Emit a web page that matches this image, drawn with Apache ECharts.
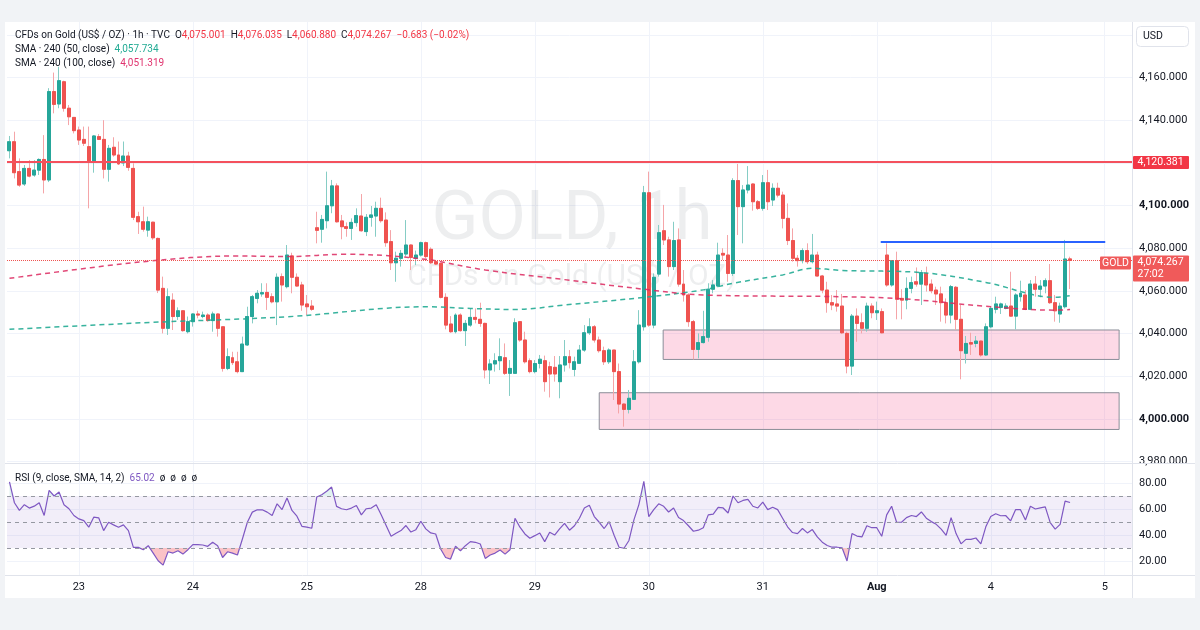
<!DOCTYPE html>
<html>
<head>
<meta charset="utf-8">
<title>GOLD, 1h</title>
<script src="https://cdn.jsdelivr.net/npm/echarts@6.0.0/dist/echarts.min.js"></script>
<style>
html,body{margin:0;padding:0;background:#ffffff;}
#chart{width:1200px;height:630px;}
</style>
</head>
<body>
<div id="chart"></div>
<script>
// ---------------- DATA ----------------
const dayLabels   = ['23','24','25','28','29','30','31','Aug','4','5'];
const dayStartIdx = [14,37,60,83,106,129,152,175,198,221];
const priceLabelTicks = [3980,4000,4020,4040,4060,4080,4100,4120,4140,4160];
const priceGridTicks  = [3980,4000,4020,4040,4060,4080,4100,4120,4140,4160,4180];
const rsiTicks = [20,40,60,80];
const rsiLevels = [70,50,30];

const openP = [
4125.7,4129.9,4115.9,4110.1,4117.4,4114.3,4116.6,4121.6,4112.0,4153.4,4147.6,4158.0,4145.6,4141.3,4135.4,4131.0,4127.6,4120.6,4132.3,4131.0,4117.0,4127.3,4123.7,4120.0,4123.2,4117.4,4094.8,4092.4,
4088.5,4092.2,4084.6,4061.2,4042.5,4055.7,4048.0,4050.7,4040.9,4045.6,4049.2,4048.0,4048.7,4046.1,4049.2,4043.2,4023.7,4028.7,4026.8,4022.2,4034.7,4048.0,4056.5,4058.6,4059.3,4057.3,4054.9,4066.7,
4062.0,4076.4,4066.4,4062.8,4053.9,4052.9,4089.6,4088.9,4092.9,4099.9,4109.2,4092.8,4090.1,4089.3,4092.0,4095.1,4087.8,4094.5,4095.1,4098.7,4093.2,4083.1,4073.2,4075.3,4077.3,4081.5,4075.3,4076.8,
4082.6,4079.5,4073.7,4072.9,4057.0,4044.5,4040.9,4048.7,4041.4,4044.0,4047.6,4046.7,4044.8,4023.0,4025.8,4027.3,4028.7,4021.4,4021.4,4045.6,4037.0,4027.3,4022.2,4026.0,4027.3,4024.5,4024.2,4017.5,4025.3,
4029.2,4023.2,4026.1,4032.3,4040.4,4043.2,4037.0,4032.0,4026.8,4032.3,4022.2,4007.0,4004.5,4009.2,4026.8,4043.2,4106.0,4044.0,4067.9,4088.2,4083.9,4071.4,4083.9,4063.2,4058.1,4045.6,4032.6,4035.8,
4038.3,4060.8,4062.3,4077.6,4076.8,4068.2,4111.7,4099.5,4107.3,4110.1,4101.8,4098.7,4110.7,4102.6,4108.1,4104.9,4094.0,4083.6,4075.3,4074.2,4078.9,4073.7,4076.8,4067.0,4060.4,4054.5,4053.9,4052.9,
4040.1,4024.8,4048.2,4045.1,4042.5,4052.9,4049.8,4050.3,4076.8,4062.8,4074.2,4056.5,4055.7,4061.2,4064.3,4063.2,4068.2,4063.2,4060.4,4058.6,4054.5,4048.7,4061.7,4046.7,4030.8,4035.8,4035.4,4036.5,
4030.0,4043.2,4051.4,4052.3,4051.8,4052.9,4048.2,4057.3,4058.1,4051.4,4063.2,4060.8,4062.3,4064.8,4054.5,4049.2,4052.6,4075.001
];
const closeP = [
4129.9,4115.4,4109.6,4117.4,4113.8,4116.6,4121.6,4112.0,4153.4,4147.4,4158.5,4145.6,4141.6,4135.1,4130.7,4129.2,4120.6,4132.6,4131.0,4117.0,4126.8,4123.7,4119.5,4123.2,4117.9,4094.5,4092.4,4088.9,
4092.4,4084.9,4060.4,4042.5,4057.3,4048.0,4050.7,4041.4,4045.6,4049.2,4048.7,4048.7,4046.1,4049.2,4042.5,4023.7,4029.2,4026.4,4022.2,4035.1,4048.0,4057.3,4058.9,4059.2,4057.0,4054.9,4066.4,4062.8,
4076.8,4066.4,4062.3,4053.4,4052.6,4051.4,4088.4,4093.5,4099.9,4109.2,4092.4,4090.1,4089.3,4092.1,4095.3,4088.2,4094.5,4095.6,4098.7,4092.9,4082.6,4073.2,4075.3,4077.6,4081.5,4075.7,4076.8,4082.6,
4076.1,4073.2,4072.6,4057.0,4044.0,4040.9,4048.7,4041.4,4044.8,4047.6,4046.7,4044.8,4023.0,4025.8,4027.3,4029.2,4021.4,4023.7,4045.1,4037.0,4026.8,4022.2,4026.0,4028.0,4017.5,4021.1,4021.1,4025.3,4029.2,
4026.4,4026.8,4032.3,4040.4,4043.2,4037.0,4032.0,4026.8,4032.3,4022.2,4007.0,4004.5,4009.7,4026.8,4044.0,4106.0,4044.0,4066.4,4087.3,4083.9,4071.4,4083.6,4063.2,4058.1,4045.6,4032.6,4035.8,4038.6,
4060.8,4062.8,4076.8,4076.8,4068.2,4111.7,4099.5,4107.3,4109.6,4101.8,4098.7,4110.7,4101.8,4108.1,4104.9,4094.0,4083.6,4075.3,4074.2,4078.9,4073.7,4076.8,4067.0,4060.4,4054.5,4053.4,4052.9,4040.4,
4024.8,4048.2,4044.8,4042.5,4052.9,4049.8,4050.7,4040.4,4062.8,4074.2,4056.1,4055.7,4061.2,4063.9,4063.2,4068.6,4062.8,4060.1,4058.6,4054.5,4048.7,4062.0,4046.7,4032.0,4035.4,4035.1,4036.5,4030.0,
4043.2,4051.8,4053.9,4053.9,4052.9,4048.2,4058.1,4058.9,4051.4,4063.2,4060.8,4062.3,4064.8,4054.5,4050.7,4052.9,4074.95,4074.267
];
const highP = [
4132.6,4134.6,4122.1,4119.0,4121.3,4121.3,4122.1,4133.0,4155.0,4162.3,4165.0,4158.5,4147.1,4141.5,4137.0,4137.0,4137.0,4133.0,4133.5,4140.0,4128.4,4132.0,4130.0,4130.0,4125.2,4119.8,4097.1,4099.5,
4094.8,4092.4,4085.0,4066.7,4061.2,4058.9,4052.3,4051.0,4048.0,4049.5,4050.7,4050.3,4049.5,4050.3,4049.5,4043.3,4033.1,4031.5,4031.5,4038.6,4052.6,4058.1,4060.4,4063.6,4063.6,4058.9,4068.2,4068.2,
4081.5,4077.9,4068.2,4064.3,4058.1,4055.7,4097.1,4095.6,4115.9,4112.0,4110.4,4095.6,4092.1,4094.0,4098.7,4105.4,4096.0,4099.8,4101.8,4103.7,4096.8,4088.5,4078.4,4079.2,4093.2,4081.8,4078.9,4083.1,
4083.1,4080.4,4074.5,4072.9,4058.9,4048.2,4049.5,4049.5,4046.4,4051.8,4051.8,4054.5,4045.1,4028.0,4030.8,4037.8,4035.4,4027.6,4047.2,4045.6,4040.9,4028.4,4027.6,4030.0,4029.7,4026.8,4029.5,4029.5,4037.0,
4032.3,4029.2,4034.7,4044.0,4047.2,4044.0,4038.6,4033.9,4033.1,4032.3,4026.0,4007.3,4013.6,4032.3,4051.0,4109.2,4115.9,4068.2,4090.9,4100.3,4085.4,4092.4,4089.3,4069.8,4058.9,4046.4,4040.1,4050.7,
4063.6,4065.1,4082.6,4080.0,4086.2,4112.8,4119.5,4109.6,4118.5,4110.4,4102.6,4114.3,4116.7,4110.4,4110.7,4106.5,4101.0,4089.3,4076.8,4080.0,4082.3,4086.7,4078.4,4067.5,4064.3,4058.1,4060.4,4058.6,
4040.9,4049.2,4051.8,4049.5,4054.5,4054.2,4055.0,4051.8,4082.3,4074.5,4078.4,4060.8,4066.4,4066.7,4071.0,4069.8,4071.4,4065.4,4062.0,4062.0,4056.5,4062.8,4062.3,4053.4,4038.9,4040.4,4038.9,4036.7,
4044.8,4052.6,4057.3,4054.5,4054.2,4069.0,4058.9,4064.8,4060.4,4065.1,4067.0,4065.1,4065.9,4072.6,4058.1,4054.5,4083.9,4076.035
];
const lowP = [
4122.1,4112.7,4108.8,4109.2,4113.2,4113.5,4114.3,4105.7,4111.0,4143.2,4145.6,4144.0,4137.7,4133.8,4128.4,4127.9,4098.7,4115.4,4130.7,4112.7,4111.2,4122.9,4119.0,4118.5,4116.3,4093.2,4086.7,4087.8,
4085.4,4084.0,4059.0,4040.1,4039.4,4041.7,4046.4,4040.9,4040.1,4043.3,4047.2,4047.2,4045.6,4040.9,4038.6,4022.2,4022.9,4025.3,4021.4,4022.0,4034.2,4044.8,4054.2,4057.3,4051.1,4054.2,4044.0,4055.0,
4061.2,4058.9,4062.0,4050.7,4048.7,4050.7,4082.3,4082.6,4089.3,4096.4,4092.0,4084.2,4085.4,4083.9,4090.1,4087.8,4085.7,4090.1,4085.4,4092.0,4080.7,4069.8,4064.3,4071.4,4076.1,4069.8,4072.1,4076.1,
4075.3,4072.6,4072.1,4056.5,4042.0,4040.4,4040.1,4040.9,4034.2,4043.2,4044.8,4043.2,4019.0,4016.4,4022.2,4022.9,4020.6,4010.8,4021.4,4036.2,4026.0,4021.4,4021.4,4023.7,4012.8,4010.1,4017.5,4009.7,4022.2,
4023.7,4020.0,4025.8,4031.5,4039.4,4035.8,4031.1,4025.3,4025.8,4008.9,4002.6,3996.4,4002.6,4008.9,4026.0,4041.4,4043.2,4042.5,4066.7,4081.5,4066.7,4069.8,4062.0,4055.0,4043.2,4027.9,4028.4,4035.4,
4036.2,4058.9,4061.7,4074.5,4064.3,4067.0,4086.2,4082.3,4105.7,4097.6,4097.9,4097.6,4097.9,4099.8,4103.8,4089.3,4081.5,4073.7,4071.4,4072.9,4072.6,4072.9,4066.7,4058.9,4049.8,4051.0,4050.3,4039.8,
4021.4,4020.6,4036.2,4040.1,4040.9,4047.2,4046.4,4040.1,4062.0,4062.0,4046.7,4046.7,4051.4,4058.9,4062.0,4053.4,4059.7,4058.9,4053.4,4045.6,4044.8,4044.8,4041.7,4018.6,4026.0,4030.0,4033.6,4029.2,
4029.5,4042.5,4049.5,4049.2,4051.4,4047.9,4042.0,4055.0,4051.0,4051.0,4057.3,4057.0,4058.9,4053.9,4045.6,4045.1,4051.8,4060.880
];

const rsi = [
80.8,64.8,58.9,63.3,60.7,62.2,64.8,55.0,74.4,70.0,
73.1,63.3,60.2,55.0,52.4,51.1,46.0,53.7,53.2,43.4,
49.8,47.8,46.0,47.8,43.4,30.5,30.5,28.7,31.8,26.1,
20.2,16.8,27.1,26.1,27.9,25.3,28.7,32.6,32.6,32.3,
31.3,34.4,31.8,22.7,27.1,26.1,24.6,36.9,49.8,57.6,
59.4,59.4,57.6,55.0,64.0,59.6,68.4,58.9,54.5,46.7,
46.0,45.2,69.2,71.0,73.6,76.9,62.0,60.2,59.4,60.7,
62.7,55.5,60.2,60.7,63.3,55.5,47.3,39.0,41.3,43.4,
47.3,42.3,44.1,50.6,44.7,41.6,40.8,29.2,22.7,21.5,
31.3,27.9,31.8,34.9,34.4,33.1,22.0,24.6,26.1,28.4,
25.3,28.7,52.9,46.0,40.8,37.5,39.5,41.6,34.9,42.1,
40.0,44.7,
49.0,43.7,47.1,52.9,60.8,62.9,54.2,49.8,45.0,50.3,
39.8,30.6,29.8,35.8,51.6,63.4,81.3,54.2,59.5,64.0,
62.1,57.7,60.8,53.4,51.1,47.1,42.9,43.7,45.6,55.5,
56.1,61.3,60.8,56.9,70.0,64.8,66.6,67.4,62.1,60.8,
65.3,59.5,61.3,59.5,52.9,46.3,41.9,41.1,45.0,41.6,
44.2,38.5,34.5,31.9,30.6,30.6,30.2,20.0,41.1,39.2,
38.5,47.1,45.6,45.6,39.0,55.5,62.1,49.8,49.8,53.4,
55.0,54.2,57.7,52.9,50.3,48.2,44.5,39.8,53.4,41.1,
33.2,36.6,36.6,37.7,33.2,46.3,54.2,56.3,54.8,55.0,
50.8,59.5,59.5,51.6,62.1,60.0,60.8,61.6,49.5,44.5,
48.2,66.1,65.02
];

// SMA 240 (50) and SMA 240 (100): [candle index, value]
const sma50 = [[0,4042.0],[27,4045.1],[56,4047.9],[84,4052.6],[93,4051.8],[102,4051.3],[112,4053.4],[128,4057.0],[140,4060.5],[146,4063.6],[156,4067.5],[162,4070.6],[168,4069.6],[184,4068.6],[197,4064.0],[211,4057.0],[214,4057.734]];
const sma100 = [[0,4065.9],[27,4073.7],[46,4076.4],[56,4076.1],[68,4077.2],[77,4076.4],[84,4074.8],[87,4073.7],[96,4069.8],[112,4065.3],[128,4060.8],[140,4058.1],[168,4057.3],[181,4056.2],[197,4052.8],[211,4051.0],[214,4051.319]];

const resistanceLevel = 4120.381;
const blueLine = [175.8, 221.1, 4083.0];                    // from index, to index, level
const zones = [[119.0, 223.9, 3995.1, 4012.3], [131.9, 223.9, 4027.9, 4041.7]]; // x0, x1, low, high
const countdownText = '27:02';

// ---------------- BUILD ----------------
const FONT = 'Roboto, "Noto Sans", "DejaVu Sans", sans-serif';
const UP = '#26a69a', DOWN = '#ef5350', UPW = '#86cdc5', DOWNW = '#f5a5a8';
const TXT = '#131722';
const nCat = 227;
const last = closeP.length - 1;
const categories = Array.from({length: nCat}, (_, i) => {
  const k = dayStartIdx.indexOf(i);
  return k >= 0 ? dayLabels[k] : '';
});
const candleAll = openP.map((o, i) => [o, closeP[i], lowP[i], highP[i]]);
const candleBody = openP.map((o, i) => [o, closeP[i], Math.min(o, closeP[i]), Math.max(o, closeP[i])]);
const fmt3 = v => v.toLocaleString('en-US', {minimumFractionDigits: 3, maximumFractionDigits: 3});
const sgn = v => (v < 0 ? '\u2212' : '+') + Math.abs(v);

const chart = echarts.init(document.getElementById('chart'), null, {renderer: 'canvas'});

const splitX = gi => ({
  type: 'value', gridIndex: gi, min: -0.5, max: nCat - 0.5,
  axisLine: {show: false}, axisLabel: {show: false},
  axisTick: {show: false, customValues: dayStartIdx},
  splitLine: {show: true, lineStyle: {color: '#f0f3fa', width: 1}}
});

const option = {
  animation: false,
  backgroundColor: '#ffffff',
  textStyle: {fontFamily: FONT},
  grid: [
    {left: 7, right: 68, top: 22, height: 441.5},
    {left: 7, right: 68, top: 463.5, height: 112}
  ],
  xAxis: [
    {type: 'category', gridIndex: 0, data: categories, boundaryGap: true,
     axisLine: {show: false}, axisTick: {show: false}, axisLabel: {show: false}, splitLine: {show: false}},
    {type: 'category', gridIndex: 1, data: categories, boundaryGap: true,
     axisLine: {show: false}, axisTick: {show: false}, splitLine: {show: false},
     axisLabel: {show: true, interval: (i, v) => v !== '', margin: 6, fontSize: 11, color: TXT, fontFamily: FONT,
       formatter: v => v === 'Aug' ? '{b|Aug}' : v,
       rich: {b: {fontWeight: 'bold', fontSize: 11, color: TXT, fontFamily: FONT}}}},
    splitX(0),
    splitX(1)
  ],
  yAxis: [
    {type: 'value', gridIndex: 0, position: 'right', min: 3979.15, max: 4186.0,
     axisLine: {show: false},
     axisTick: {show: false, customValues: priceGridTicks},
     axisLabel: {customValues: priceLabelTicks, margin: 7, fontSize: 11, color: TXT, fontFamily: FONT,
       formatter: v => (v % 100 === 0) ? '{b|' + fmt3(v) + '}' : fmt3(v),
       rich: {b: {fontWeight: 'bold', fontSize: 11, color: TXT, fontFamily: FONT}}},
     splitLine: {show: true, lineStyle: {color: '#f0f3fa', width: 1}}},
    {type: 'value', gridIndex: 1, position: 'right', min: 8.85, max: 95,
     axisLine: {show: false},
     axisTick: {show: false, customValues: rsiTicks},
     axisLabel: {customValues: rsiTicks, margin: 7, fontSize: 11, color: TXT, fontFamily: FONT,
       formatter: v => v.toFixed(2)},
     splitLine: {show: true, lineStyle: {color: '#f0f3fa', width: 1}}}
  ],
  visualMap: [{
    type: 'piecewise', show: false, seriesIndex: 5, dimension: 1,
    pieces: [
      {lt: 30, color: 'rgba(242,54,69,0.30)'},
      {gte: 30, lte: 70, color: 'rgba(255,255,255,0)'},
      {gt: 70, color: 'rgba(8,153,129,0.12)'}
    ]
  }],
  series: [
    { // annotations (zones, levels)
      name: 'annotations', type: 'line', xAxisIndex: 2, yAxisIndex: 0,
      data: [[0, resistanceLevel]], symbol: 'none', lineStyle: {width: 0}, silent: true,
      markArea: {
        silent: true,
        itemStyle: {color: 'rgba(242,54,120,0.19)', borderColor: '#8b8e98', borderWidth: 1},
        data: zones.map(z => [{coord: [z[0], z[3]]}, {coord: [z[1], z[2]]}])
      },
      markLine: {
        silent: true, symbol: ['none', 'none'], label: {show: false},
        data: [
          {yAxis: resistanceLevel, lineStyle: {color: '#f4515d', width: 2, type: 'solid'}},
          [{coord: [blueLine[0], blueLine[2]], lineStyle: {color: '#2962ff', width: 2, type: 'solid'}},
           {coord: [blueLine[1], blueLine[2]]}],
          {yAxis: closeP[last], lineStyle: {color: '#ef5350', width: 1, type: 'dotted'}}
        ]
      }
    },
    { // wicks (light)
      name: 'wicks', type: 'candlestick', xAxisIndex: 0, yAxisIndex: 0, data: candleAll,
      barWidth: '70%',
      itemStyle: {color: UPW, color0: DOWNW, borderColor: UPW, borderColor0: DOWNW, borderWidth: 1}
    },
    { // bodies (solid)
      name: 'GOLD', type: 'candlestick', xAxisIndex: 0, yAxisIndex: 0, data: candleBody,
      barWidth: '70%',
      itemStyle: {color: UP, color0: DOWN, borderColor: UP, borderColor0: DOWN, borderWidth: 1}
    },
    {
      name: 'SMA 50', type: 'line', xAxisIndex: 0, yAxisIndex: 0, data: sma50, smooth: 0.35,
      symbol: 'none', lineStyle: {color: 'rgba(34,171,148,0.9)', width: 1.5, type: [5, 4]}, z: 3
    },
    {
      name: 'SMA 100', type: 'line', xAxisIndex: 0, yAxisIndex: 0, data: sma100, smooth: 0.35,
      symbol: 'none', lineStyle: {color: 'rgba(220,40,95,0.85)', width: 1.5, type: [5, 4]}, z: 3
    },
    { // RSI OB/OS fill
      name: 'RSI fill', type: 'line', xAxisIndex: 1, yAxisIndex: 1, data: rsi,
      symbol: 'none', lineStyle: {width: 0, opacity: 0},
      areaStyle: {origin: 30, opacity: 1}, silent: true
    },
    {
      name: 'RSI', type: 'line', xAxisIndex: 1, yAxisIndex: 1, data: rsi,
      symbol: 'none', lineStyle: {color: '#7e57c2', width: 1.2}, itemStyle: {color: '#7e57c2'},
      markArea: {silent: true, itemStyle: {color: 'rgba(126,87,194,0.10)'},
        data: [[{yAxis: rsiLevels[2]}, {yAxis: rsiLevels[0]}]]},
      markLine: {silent: true, symbol: ['none', 'none'], label: {show: false},
        lineStyle: {color: '#9598a1', width: 1, type: [4, 4]},
        data: rsiLevels.map(v => ({yAxis: v}))}
    }
  ]
};

chart.setOption(option);

// ---------------- OVERLAY TEXT / LABELS ----------------
const yRes = chart.convertToPixel({yAxisIndex: 0}, resistanceLevel);
const yLast = chart.convertToPixel({yAxisIndex: 0}, closeP[last]);
const chg = closeP[last] - closeP[last - 1];
const chgTxt = sgn(+chg.toFixed(3)) + ' (' + sgn(+(chg / closeP[last - 1] * 100).toFixed(2)) + '%)';
const AX = 1132;
const legFont = 10;

const graphics = [
  // watermark
  {type: 'text', x: 572, y: 222, z: 1, silent: true,
   style: {text: 'GOLD, 1h', font: '69px ' + FONT, fill: 'rgba(19,23,34,0.075)', textAlign: 'center', textVerticalAlign: 'middle'}},
  {type: 'text', x: 572, y: 277, z: 1, silent: true,
   style: {text: 'CFDs on Gold (US$ / OZ)', font: '30px ' + FONT, fill: 'rgba(19,23,34,0.075)', textAlign: 'center', textVerticalAlign: 'middle'}},
  // frame strips
  {type: 'rect', shape: {x: 0, y: 0, width: 1200, height: 22}, style: {fill: '#f1f3f6'}, z: 50, silent: true},
  {type: 'rect', shape: {x: 0, y: 598, width: 1200, height: 32}, style: {fill: '#f1f3f6'}, z: 50, silent: true},
  {type: 'rect', shape: {x: 0, y: 0, width: 5, height: 630}, style: {fill: '#f1f3f6'}, z: 50, silent: true},
  {type: 'rect', shape: {x: 1195, y: 0, width: 5, height: 630}, style: {fill: '#f1f3f6'}, z: 50, silent: true},
  // separators
  {type: 'line', shape: {x1: AX + 0.5, y1: 22, x2: AX + 0.5, y2: 598}, style: {stroke: '#e0e3eb', lineWidth: 1}, z: 40, silent: true},
  {type: 'line', shape: {x1: 5, y1: 463.5, x2: 1195, y2: 463.5}, style: {stroke: '#e0e3eb', lineWidth: 1}, z: 40, silent: true},
  {type: 'line', shape: {x1: 5, y1: 575.5, x2: 1195, y2: 575.5}, style: {stroke: '#e0e3eb', lineWidth: 1}, z: 40, silent: true},
  // USD box
  {type: 'rect', shape: {x: 1136.5, y: 26.5, width: 52, height: 20, r: 4}, style: {fill: '#ffffff', stroke: '#e0e3eb', lineWidth: 1}, z: 60, silent: true},
  {type: 'text', x: 1143, y: 36.5, z: 61, silent: true,
   style: {text: 'USD', font: '10.5px ' + FONT, fill: TXT, textVerticalAlign: 'middle'}},
  // header legend
  {type: 'text', x: 15, y: 35.5, z: 60, silent: true,
   style: {
     text: '{t|CFDs on Gold (US$ / OZ) \u00b7 1h \u00b7 TVC}  {k|O}{v|' + fmt3(openP[last]) + '}  {k|H}{v|' + fmt3(highP[last]) +
           '}  {k|L}{v|' + fmt3(lowP[last]) + '}  {k|C}{v|' + fmt3(closeP[last]) + '}  {v|' + chgTxt + '}',
     textVerticalAlign: 'middle', font: legFont + 'px ' + FONT, fill: TXT,
     rich: {t: {fill: TXT, fontSize: legFont, fontFamily: FONT}, k: {fill: TXT, fontSize: legFont, fontFamily: FONT},
            v: {fill: '#f23645', fontSize: legFont, fontFamily: FONT}}
   }},
  {type: 'text', x: 15, y: 49.5, z: 60, silent: true,
   style: {text: '{t|SMA \u00b7 240 (50, close)}  {v|' + fmt3(sma50[sma50.length - 1][1]) + '}',
     textVerticalAlign: 'middle', font: legFont + 'px ' + FONT, fill: TXT,
     rich: {t: {fill: TXT, fontSize: legFont, fontFamily: FONT}, v: {fill: '#22ab94', fontSize: legFont, fontFamily: FONT}}}},
  {type: 'text', x: 15, y: 63.5, z: 60, silent: true,
   style: {text: '{t|SMA \u00b7 240 (100, close)}  {v|' + fmt3(sma100[sma100.length - 1][1]) + '}',
     textVerticalAlign: 'middle', font: legFont + 'px ' + FONT, fill: TXT,
     rich: {t: {fill: TXT, fontSize: legFont, fontFamily: FONT}, v: {fill: '#e0336e', fontSize: legFont, fontFamily: FONT}}}},
  // RSI legend
  {type: 'text', x: 15, y: 478.5, z: 60, silent: true,
   style: {text: '{t|RSI (9, close, SMA, 14, 2)}  {v|' + rsi[rsi.length - 1].toFixed(2) + '}  {t|\u00f8  \u00f8  \u00f8  \u00f8}',
     textVerticalAlign: 'middle', font: legFont + 'px ' + FONT, fill: TXT,
     rich: {t: {fill: TXT, fontSize: legFont, fontFamily: FONT}, v: {fill: '#7e57c2', fontSize: legFont, fontFamily: FONT}}}},
  // resistance price label
  {type: 'rect', shape: {x: AX + 1, y: yRes - 6, width: 56, height: 13, r: 1}, style: {fill: '#f23645'}, z: 60, silent: true},
  {type: 'text', x: AX + 5.5, y: yRes + 0.5, z: 61, silent: true,
   style: {text: fmt3(resistanceLevel), font: '10.5px ' + FONT, fill: '#ffffff', textVerticalAlign: 'middle'}},
  // last price label
  {type: 'rect', shape: {x: AX + 1, y: yLast - 5, width: 56, height: 26, r: 1}, style: {fill: '#f05a5a'}, z: 60, silent: true},
  {type: 'text', x: AX + 5.5, y: yLast + 2, z: 61, silent: true,
   style: {text: fmt3(closeP[last]), font: '10.5px ' + FONT, fill: '#ffffff', textVerticalAlign: 'middle'}},
  {type: 'text', x: AX + 5.5, y: yLast + 14, z: 61, silent: true,
   style: {text: countdownText, font: '10.5px ' + FONT, fill: '#ffffff', textVerticalAlign: 'middle'}},
  // GOLD tag
  {type: 'rect', shape: {x: 1100, y: yLast - 4, width: 31, height: 13, r: 1}, style: {fill: '#f05a5a'}, z: 60, silent: true},
  {type: 'text', x: 1115.5, y: yLast + 2.5, z: 61, silent: true,
   style: {text: 'GOLD', font: '10.5px ' + FONT, fill: '#ffffff', textAlign: 'center', textVerticalAlign: 'middle'}}
];

chart.setOption({graphic: graphics});
</script>
</body>
</html>
